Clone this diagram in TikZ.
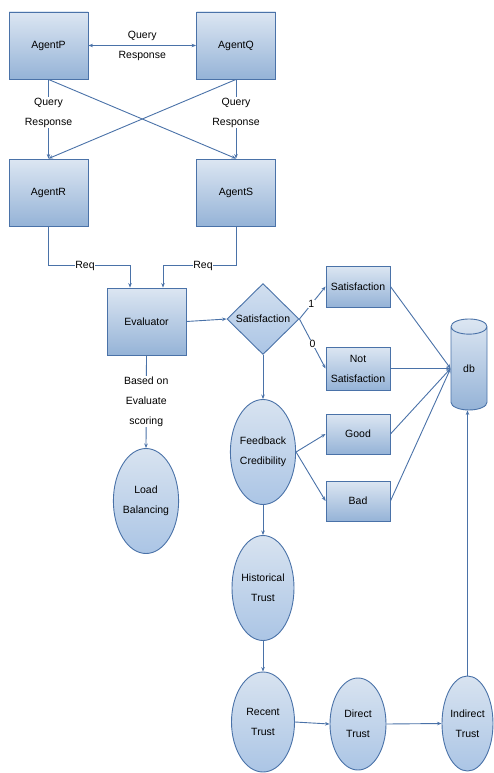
\documentclass[tikz,border=0pt]{standalone}
\usepackage{fontspec}
\setmainfont{Liberation Sans}
\usetikzlibrary{shapes.geometric,arrows.meta}
\definecolor{edgeblue}{HTML}{4A72A8}
\definecolor{boxtop}{HTML}{DCE6F2}
\definecolor{boxbot}{HTML}{95B3D7}
\definecolor{elltop}{HTML}{D8E3F0}
\definecolor{ellbot}{HTML}{ABC5E5}
\begin{document}
\begin{tikzpicture}[x=1pt,y=-1pt,
  every node/.style={font=\fontsize{10.5}{20}\selectfont, text=black},
  agentbox/.style={draw=edgeblue, line width=0.9pt, rectangle, top color=boxtop, bottom color=boxbot,
    minimum width=79pt, minimum height=67pt, inner sep=0pt, align=center},
  smallbox/.style={draw=edgeblue, line width=0.9pt, rectangle, top color=boxtop, bottom color=boxbot,
    minimum width=64pt, inner sep=0pt, align=center},
  oval/.style={draw=edgeblue, line width=0.9pt, ellipse, top color=elltop, bottom color=ellbot,
    inner sep=0pt, align=center},
  decision/.style={draw=edgeblue, line width=0.9pt, diamond, top color=boxtop!80!ellbot, bottom color=ellbot,
    minimum width=72pt, minimum height=71pt, inner sep=0pt, align=center},
  store/.style={draw=edgeblue, line width=0.9pt, cylinder, shape border rotate=90, aspect=1.3,
    top color=boxtop, bottom color=boxbot, minimum width=36pt, minimum height=91pt, inner sep=0pt},
  link/.style={draw=edgeblue, line width=0.9pt},
  arr/.style={link, -{Stealth[length=4.5pt,width=3.5pt]}},
  darr/.style={link, {Stealth[length=4.5pt,width=3.5pt]}-{Stealth[length=4.5pt,width=3.5pt]}},
  tag/.style={fill=white, inner sep=0.5pt, align=center},
  notag/.style={inner sep=0.5pt, align=center}
]
\useasboundingbox (0,0) rectangle (493,773);

% agents
\node[agentbox] (P) at (48.5,45.5) {AgentP};
\node[agentbox] (Q) at (236,45.5) {AgentQ};
\node[agentbox] (R) at (48.5,192.5) {AgentR};
\node[agentbox] (S) at (236,192.5) {AgentS};

% evaluator and decision
\node[agentbox] (E) at (146.5,321.5) {Evaluator};
\node[decision] (D) at (263,319) {Satisfaction};

% outcome boxes
\node[smallbox, minimum height=41pt] (Sat) at (358,286.5) {Satisfaction};
\node[smallbox, minimum height=43pt] (NS) at (358,368.5) {Not\\Satisfaction};
\node[smallbox, minimum height=40pt] (G) at (358,434) {Good};
\node[smallbox, minimum height=40pt] (B) at (358,501) {Bad};

% database
\node[store] (db) at (469,368.5) {db};

% trust chain
\node[oval, minimum width=62pt, minimum height=105pt] (FC) at (263,452) {Feedback\\Credibility};
\node[oval, minimum width=62pt, minimum height=105pt] (HT) at (263,588) {Historical\\Trust};
\node[oval, minimum width=63pt, minimum height=100pt] (RT) at (263,722) {Recent\\Trust};
\node[oval, minimum width=56pt, minimum height=92pt] (DT) at (358,724) {Direct\\Trust};
\node[oval, minimum width=51pt, minimum height=95pt] (IT) at (467.5,723.5) {Indirect\\Trust};
\node[oval, minimum width=64pt, minimum height=105pt] (LB) at (146,501) {Load\\Balancing};

% agent links
\draw[darr] (P.east) -- (Q.east -| Q.west) node[notag, midway] {Query\\Response};
\draw[arr] (P.south) -- (R.north) node[tag, pos=0.42] {Query\\Response};
\draw[arr] (Q.south) -- (S.north) node[tag, pos=0.42] {Query\\Response};
\draw[arr] (P.south) -- (S.north);
\draw[arr] (Q.south) -- (R.north);

% requests to evaluator
\draw[arr] (R.south) |- ([xshift=-16.5pt,yshift=22pt]E.north) -- ([xshift=-16.5pt]E.north);
\draw[arr] (S.south) |- ([xshift=16.5pt,yshift=22pt]E.north) -- ([xshift=16.5pt]E.north);
\node[tag] (reqL) at (85,266) {Req};
\node[tag] (reqR) at (203,266) {Req};

% evaluation flow
\draw[arr] (E.east) -- (D.west);
\draw[arr] (D.east) -- (Sat.west) node[tag, pos=0.45] {1};
\draw[arr] (D.east) -- (NS.west) node[tag, pos=0.5] {0};
\draw[arr] (Sat.east) -- (db.west);
\draw[arr] (NS.east) -- (db.west);
\draw[arr] (G.east) -- (db.west);
\draw[arr] (B.east) -- (db.west);
\draw[arr] (D.south) -- (FC.north);
\draw[arr] (FC.east) -- (G.west);
\draw[arr] (FC.east) -- (B.west);
\draw[arr] (FC.south) -- (HT.north);
\draw[arr] (HT.south) -- (RT.north);
\draw[arr] (RT.east) -- (DT.west);
\draw[arr] (DT.east) -- (IT.west);
\draw[arr] (IT.north) -- (IT.north |- db.south);
\draw[arr] (E.south) -- (LB.north) node[tag, midway] {Based on\\Evaluate\\scoring};
\end{tikzpicture}
\end{document}
